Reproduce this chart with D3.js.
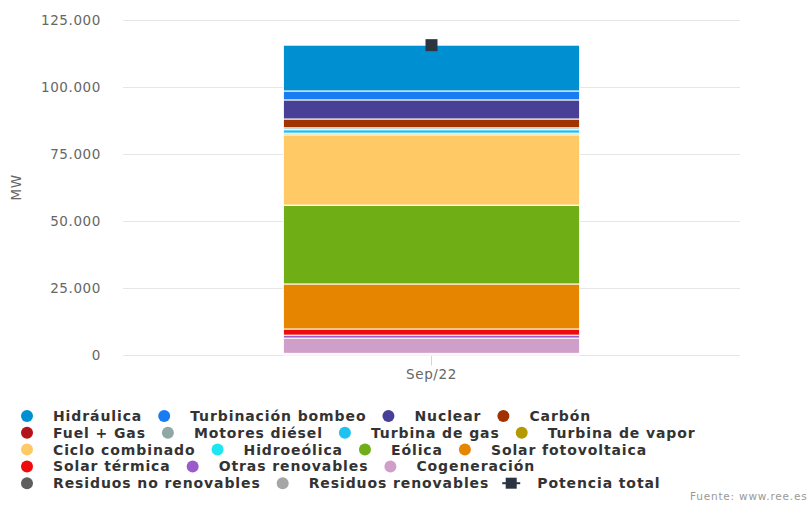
<!DOCTYPE html>
<html>
<head>
<meta charset="utf-8">
<script src="https://cdn.jsdelivr.net/npm/d3@7"></script>
<style>
  body { margin: 0; background: #fff; }
  svg { display: block; }
</style>
</head>
<body>
<svg id="chart" width="809" height="505"></svg>
<script>
// Potencia instalada por tecnología (MW)
const categories = ["Sep/22"];
const seriesNames = [
  "Hidráulica", "Turbinación bombeo", "Nuclear", "Carbón",
  "Fuel + Gas", "Motores diésel", "Turbina de gas", "Turbina de vapor",
  "Ciclo combinado", "Hidroeólica", "Eólica", "Solar fotovoltaica",
  "Solar térmica", "Otras renovables", "Cogeneración",
  "Residuos no renovables", "Residuos renovables"
];
const seriesValues = [
  17093, 3331, 7117, 3300,
  0, 700, 1300, 600,
  26250, 11, 29400, 16800,
  2304, 1090, 5700,
  452, 162
];
const seriesColors = [
  "#0090d1", "#1a7cf2", "#483f96", "#a03300",
  "#b3141c", "#8fa7a5", "#1fc1f0", "#b39a00",
  "#ffc966", "#1ee6f0", "#6fae15", "#e68600",
  "#ee0b0b", "#9b5ccb", "#cf9fca",
  "#5e5e5e", "#a6a6a6"
];
const totalName = "Potencia total";
const potenciaTotal = [115610];
const yTicks = [0, 25000, 50000, 75000, 100000, 125000];
const yTitle = "MW";
const sourceText = "Fuente: www.ree.es";

const svg = d3.select("#chart");
const margin = { left: 123, right: 69, top: 20, bottom: 150 };
const W = 809, H = 505;

const es = d3.formatLocale({ decimal: ",", thousands: ".", grouping: [3], currency: ["", " €"] });
const fmt = es.format(",d");

const x = d3.scaleBand()
  .domain(categories)
  .range([margin.left, W - margin.right])
  .paddingInner(0.2)
  .paddingOuter(0.433);

const y = d3.scaleLinear()
  .domain([0, 125000])
  .range([H - margin.bottom, margin.top]);

// grid lines
svg.append("g")
  .selectAll("line")
  .data(yTicks)
  .join("line")
  .attr("x1", margin.left)
  .attr("x2", W - margin.right)
  .attr("y1", d => Math.round(y(d)) + 0.5)
  .attr("y2", d => Math.round(y(d)) + 0.5)
  .attr("stroke", "#e6e6e6")
  .attr("stroke-width", 1);

// y axis labels
const yAxis = d3.axisLeft(y).tickValues(yTicks).tickFormat(fmt).tickSize(0).tickPadding(0);
const gy = svg.append("g")
  .attr("transform", `translate(${margin.left - 22},0)`)
  .call(yAxis);
gy.select(".domain").remove();
gy.selectAll("text")
  .attr("fill", "#666")
  .attr("font-family", "DejaVu Sans, sans-serif")
  .attr("font-size", 13.5)
  .attr("letter-spacing", 0.6)
  .attr("dy", "0.35em");

svg.append("text")
  .attr("transform", `translate(21,${(y(0) + y(125000)) / 2}) rotate(-90)`)
  .attr("text-anchor", "middle")
  .attr("fill", "#666")
  .attr("font-family", "DejaVu Sans, sans-serif")
  .attr("font-size", 13.5)
  .attr("letter-spacing", 0.5)
  .text(yTitle);

// x axis
const xAxis = d3.axisBottom(x).tickSize(10).tickPadding(4);
const gx = svg.append("g")
  .attr("transform", `translate(0,${Math.round(y(0)) + 0.5})`)
  .call(xAxis);
gx.select(".domain").remove();
gx.selectAll(".tick line").attr("stroke", "#ccd6eb");
gx.selectAll("text")
  .attr("fill", "#666")
  .attr("font-family", "DejaVu Sans, sans-serif")
  .attr("font-size", 13.5)
  .attr("letter-spacing", 0.6);

// stacked bar: first series drawn on top
const rows = categories.map(c => {
  const r = { cat: c };
  seriesNames.forEach((n, i) => r[n] = seriesValues[i]);
  return r;
});
const stackKeys = seriesNames.slice().reverse();
const stacked = d3.stack().keys(stackKeys)(rows);

svg.append("g")
  .selectAll("g")
  .data(stacked)
  .join("g")
  .attr("fill", d => seriesColors[seriesNames.indexOf(d.key)])
  .selectAll("rect")
  .data(d => d)
  .join("rect")
  .attr("x", d => x(d.data.cat))
  .attr("width", x.bandwidth())
  .attr("y", d => y(d[1]))
  .attr("height", d => Math.max(0, y(d[0]) - y(d[1])))
  .attr("stroke", "#fff")
  .attr("stroke-width", 1);

// total capacity marker
svg.append("g")
  .selectAll("rect")
  .data(categories.map((c, i) => ({ cat: c, v: potenciaTotal[i] })))
  .join("rect")
  .attr("x", d => x(d.cat) + x.bandwidth() / 2 - 6)
  .attr("y", d => y(d.v) - 6)
  .attr("width", 12)
  .attr("height", 12)
  .attr("fill", "#2b3541");

// legend (flowing rows)
const legendItems = seriesNames.map((n, i) => ({ name: n, color: seriesColors[i], type: "circle" }))
  .concat([{ name: totalName, color: "#2b3541", type: "line" }]);
const lg = svg.append("g")
  .attr("font-family", "DejaVu Sans, sans-serif")
  .attr("font-size", 14)
  .attr("font-weight", "bold")
  .attr("letter-spacing", 0.9)
  .attr("fill", "#333");

const legendLeft = 27, legendMaxX = 712, rowStep = 16.8, firstRow = 416;
const symToText = 26, itemGap = 22;
let cx = legendLeft, row = 0;
legendItems.forEach(it => {
  const g = lg.append("g");
  const t = g.append("text").attr("dy", "0.35em").text(it.name);
  const w = t.node().getComputedTextLength();
  if (cx !== legendLeft && cx + symToText + w > legendMaxX) { row++; cx = legendLeft; }
  const cy = firstRow + row * rowStep;
  g.attr("transform", `translate(${cx},${cy})`);
  t.attr("x", symToText);
  if (it.type === "circle") {
    g.append("circle").attr("r", 6).attr("fill", it.color);
  } else {
    g.append("line").attr("x1", -9).attr("x2", 9).attr("stroke", it.color).attr("stroke-width", 2);
    g.append("rect").attr("x", -5.5).attr("y", -5.5).attr("width", 11).attr("height", 11).attr("fill", it.color);
  }
  cx += symToText + w + itemGap;
});

svg.append("text")
  .attr("x", 690)
  .attr("y", 500)
  .attr("fill", "#999")
  .attr("font-family", "DejaVu Sans, sans-serif")
  .attr("font-size", 10.5)
  .attr("letter-spacing", 0.8)
  .text(sourceText);
</script>
</body>
</html>
